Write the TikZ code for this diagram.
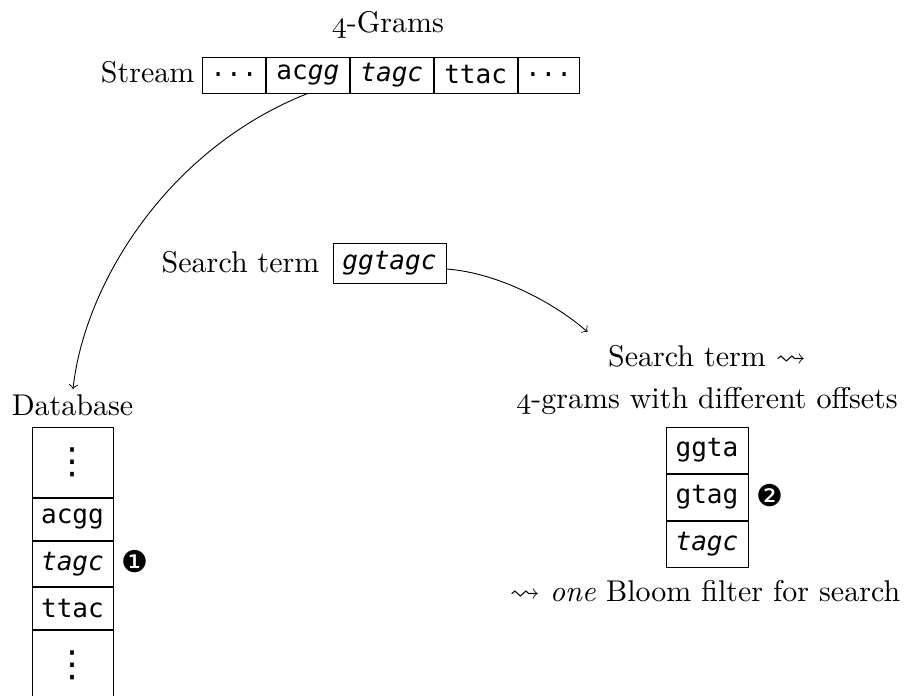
\documentclass[tikz,border=0pt]{standalone}
\usepackage{fontspec}
\usepackage{amssymb}
\setmonofont{DejaVu Sans Mono}
\newfontfamily\dingfont{DejaVu Sans}
\newcommand{\osfour}{{\usefont{OML}{cmm}{m}{it}4}}
\newcommand{\morerows}{{\dingfont\fontsize{12}{12}\selectfont ⋮}}
\begin{document}
\begin{tikzpicture}[
  x=0.33333pt, y=-0.33333pt,
  dna/.style={font=\fontsize{8.7}{10}\selectfont\ttfamily},
  cell/.style={draw, dna, inner sep=0pt, line width=0.3pt},
  scell/.style={cell, minimum height=12pt},
  dcell/.style={cell, minimum width=27pt},
  rcell/.style={cell, minimum width=27.33pt, minimum height=15.33pt},
  lbl/.style={inner sep=0pt, font=\fontsize{10}{12}\selectfont},
  badge/.style={inner sep=0pt, font=\dingfont\fontsize{10}{12}\selectfont},
  flow/.style={->, line width=0.3pt, shorten >=1.5pt}
]
\useasboundingbox (0,0) rectangle (906,695);

% stream of 4-grams
\node[lbl, anchor=base] (grams) at (388,32) {\osfour-Grams};
\node[scell, minimum width=21pt, anchor=west] (s1) at (202,75) {...};
\node[scell, minimum width=27.67pt, anchor=west] (s2) at (s1.east) {ac\textit{gg}};
\node[scell, minimum width=27.67pt, anchor=west] (s3) at (s2.east) {\textit{tagc}};
\node[scell, minimum width=27.67pt, anchor=west] (s4) at (s3.east) {ttac};
\node[scell, minimum width=20.33pt, anchor=west] (s5) at (s4.east) {...};
\node[lbl, anchor=base east] (stream) at (195,82) {Stream};

% database column
\node[lbl, anchor=base] (dblabel) at (72.5,415) {Database};
\node[dcell, minimum height=23.33pt, anchor=north] (d1) at (72.5,427) {\morerows};
\node[dcell, minimum height=14pt, anchor=north] (d2) at (d1.south) {acgg};
\node[dcell, minimum height=15pt, anchor=north] (d3) at (d2.south) {\textit{tagc}};
\node[dcell, minimum height=14pt, anchor=north] (d4) at (d3.south) {ttac};
\node[dcell, minimum height=23.33pt, anchor=north] (d5) at (d4.south) {\morerows};
\node[badge] (m1) at (135,562) {❶};

% search term
\node[cell, minimum width=37.67pt, minimum height=13.33pt] (term) at (389.5,263) {\textit{ggtagc}};
\node[lbl, anchor=base east] (termlabel) at (320,272) {Search term};

% search term split into 4-grams
\node[lbl, anchor=base] (rt1) at (707,366) {Search term $\leadsto$};
\node[lbl, anchor=base] (rt2) at (707,408) {\osfour-grams with different offsets};
\node[rcell, anchor=north] (r1) at (707,427) {ggta};
\node[rcell, anchor=north] (r2) at (r1.south) {gtag};
\node[rcell, anchor=north] (r3) at (r2.south) {\textit{tagc}};
\node[badge] (m2) at (769.5,496) {❷};
\node[lbl, anchor=base] (bloom) at (705,601) {$\leadsto$ \textit{one} Bloom filter for search};

% connectors
\coordinate (tip) at (591,335);
\draw[flow] (s2.south) .. controls +(-140,55) and +(12,-110) .. (dblabel.north);
\draw[flow] ([yshift=-2pt]term.east) .. controls +(54,4) and +(-34,-30) .. (tip);
\end{tikzpicture}
\end{document}
